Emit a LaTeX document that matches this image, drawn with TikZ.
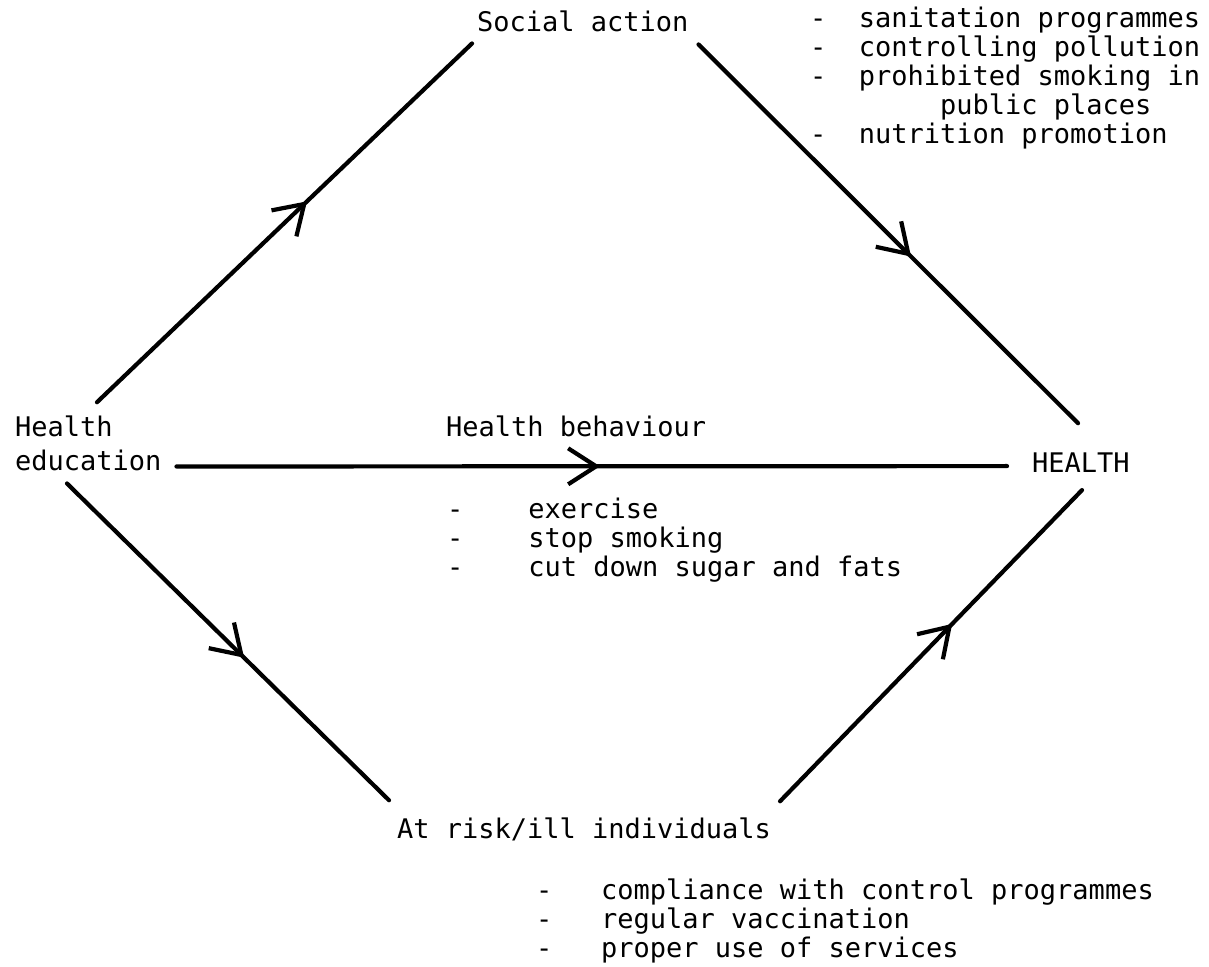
\documentclass[tikz,border=0pt]{standalone}
\usepackage{fontspec}
\setmonofont{DejaVu Sans Mono}
\usetikzlibrary{arrows.meta,calc,decorations.markings}

\begin{document}
\begin{tikzpicture}[x=0.5pt,y=-0.5pt,line width=2.1pt,line cap=round,
    every node/.style={font=\ttfamily\fontsize{13.5}{14.5}\selectfont,inner sep=0pt,anchor=base west,align=left},
    flow/.style={postaction={decorate,decoration={markings,mark=at position #1 with {\arrow{Straight Barb[length=14pt,width=18pt]}}}}}]
  \useasboundingbox (0,0) rectangle (1209,967);

  \node (edu) at (13,471) [font=\ttfamily\fontsize{13.5}{17}\selectfont] {Health\\education};
  \node (soc) at (475,32) {Social action};
  \node (hb) at (444,437) {Health behaviour};
  \node (health) at (1030,473) {HEALTH};
  \node (risk) at (395,838) {At risk/ill individuals};

  \node (socl) at (808,144) {-\ \ sanitation programmes\\-\ \ controlling pollution\\-\ \ prohibited smoking in\\\ \ \ \ \ \ \ \ public places\\-\ \ nutrition promotion};
  \node (hbl) at (445,576) {-\ \ \ \ exercise\\-\ \ \ \ stop smoking\\-\ \ \ \ cut down sugar and fats};
  \node (riskl) at (534,957) {-\ \ \ compliance with control programmes\\-\ \ \ regular vaccination\\-\ \ \ proper use of services};

  \draw[flow=0.56] ($(edu.north west)+(84,-12)$) -- ($(soc.south west)+(-3,9)$);
  \draw[flow=0.56] ($(soc.south east)+(8,10)$) -- ($(health.north west)+(48,-28)$);
  \draw[flow=0.51] ($(edu.south east)+(13,-7)$) -- ($(health.south west)+(-23,-9)$);
  \draw[flow=0.55] ($(edu.south west)+(54,10)$) -- ($(risk.north west)+(-6,-15)$);
  \draw[flow=0.57] ($(risk.north east)+(7,-14)$) -- ($(health.south west)+(52,15)$);
\end{tikzpicture}
\end{document}
